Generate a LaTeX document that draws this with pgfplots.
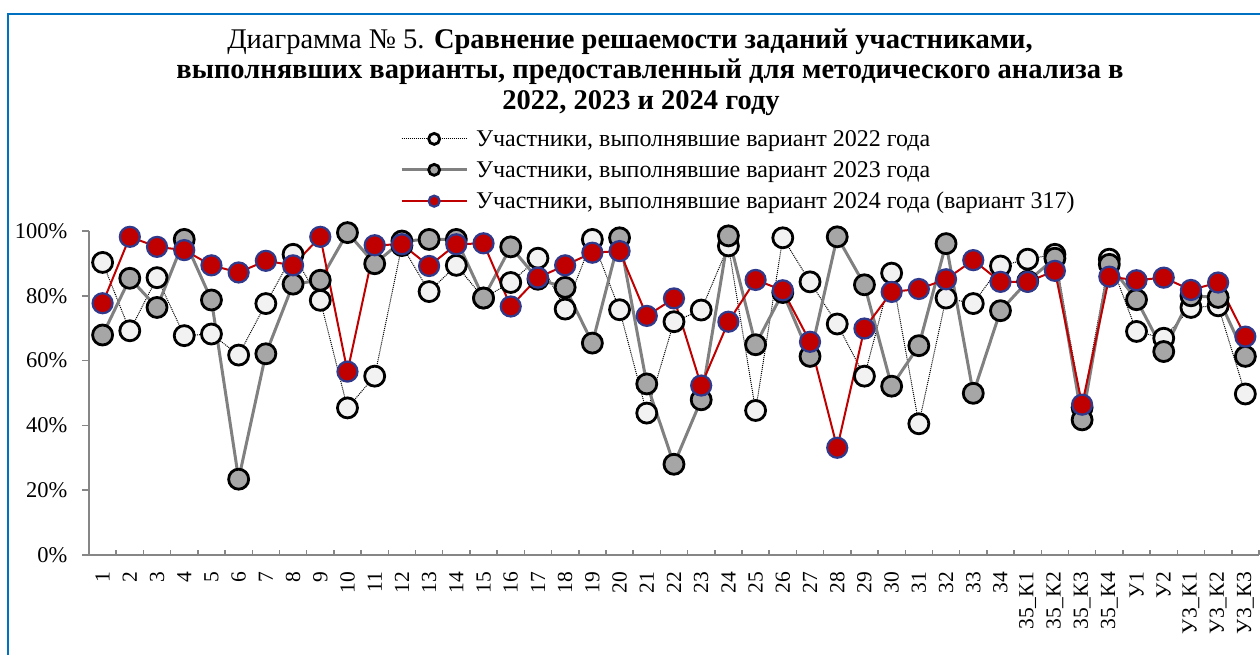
\documentclass[border=0pt]{standalone}
\usepackage{pgfplots}
\pgfplotsset{compat=1.18}
\usepackage{fontspec}
\setmainfont{Liberation Serif}
\definecolor{frameblue}{HTML}{0070C0}
\definecolor{axisgray}{HTML}{868686}
\definecolor{redline}{HTML}{C00000}
\definecolor{rededge}{HTML}{2F3A8C}
\definecolor{greyfill}{HTML}{A6A6A6}
\definecolor{greyline}{HTML}{808080}
\definecolor{whitefill}{HTML}{F2F2F2}
\pgfplotstableread{
x y
0 90.3
1 69.2
2 85.6
3 67.7
4 68.2
5 61.7
6 77.6
7 92.8
8 78.6
9 45.4
10 55.2
11 95.5
12 81.3
13 89.4
14 79.3
15 84.1
16 91.6
17 75.9
18 97.4
19 75.7
20 43.8
21 72.0
22 75.6
23 95.4
24 44.6
25 97.9
26 84.3
27 71.3
28 55.2
29 87.0
30 40.5
31 79.3
32 77.6
33 89.2
34 91.3
35 92.8
36 45.5
37 91.3
38 69.0
39 66.9
40 76.4
41 76.9
42 49.7
}\dataA
\pgfplotstableread{
x y
0 67.9
1 85.4
2 76.4
3 97.4
4 78.7
5 23.4
6 62.1
7 83.6
8 84.8
9 99.5
10 89.9
11 96.9
12 97.4
13 97.4
14 79.3
15 95.1
16 85.1
17 82.6
18 65.4
19 97.9
20 52.8
21 28.0
22 47.9
23 98.5
24 64.9
25 81.0
26 61.3
27 98.2
28 83.4
29 52.1
30 64.6
31 96.1
32 49.9
33 75.4
34 84.5
35 91.6
36 41.7
37 89.7
38 78.8
39 62.8
40 80.0
41 79.5
42 61.3
}\dataB
\pgfplotstableread{
x y
0 77.7
1 98.2
2 95.1
3 94.1
4 89.4
5 87.2
6 90.8
7 89.4
8 98.2
9 56.6
10 95.6
11 95.9
12 89.2
13 95.9
14 96.2
15 76.7
16 85.6
17 89.4
18 93.3
19 93.8
20 73.8
21 79.2
22 52.3
23 72.0
24 84.9
25 81.7
26 65.8
27 33.1
28 69.9
29 81.2
30 82.1
31 85.1
32 91.0
33 84.3
34 84.3
35 87.7
36 46.4
37 85.9
38 84.8
39 85.6
40 81.8
41 84.1
42 67.4
}\dataC
\begin{document}
\begin{tikzpicture}[x=1pt,y=1pt]
\useasboundingbox (0,0) rectangle (1260,655);
\draw[frameblue, line width=2pt] (8,-20) -- (8,641) -- (1300,641);
\node[font=\fontsize{28.5}{31}\selectfont] at (630,613) {Диаграмма № 5. \textbf{Сравнение решаемости заданий участниками,}};
\node[font=\fontsize{28.5}{31}\selectfont] at (650,583) {\textbf{выполнявших варианты, предоставленный для методического анализа в}};
\node[font=\fontsize{28.5}{31}\selectfont] at (641,552) {\textbf{2022, 2023 и 2024 году}};
\begin{axis}[
  at={(89pt,100pt)}, anchor=south west,
  scale only axis, width=1170pt, height=324pt,
  xmin=-0.5, xmax=42.5, ymin=0, ymax=100,
  clip=false,
  axis lines*=left,
  axis line style={-, draw=axisgray, line width=2pt},
  tick align=outside,
  major tick length=7pt,
  minor tick length=5pt,
  tick style={draw=axisgray, line width=1.5pt},
  xtick={0,...,42},
  xticklabels={1,2,3,4,5,6,7,8,9,10,11,12,13,14,15,16,17,18,19,20,21,22,23,24,25,26,27,28,29,30,31,32,33,34,35\_К1,35\_К2,35\_К3,35\_К4,У1,У2,У3\_К1,У3\_К2,У3\_К3},
  major x tick style={draw=none},
  minor xtick={-0.5,0.5,...,42.5},
  minor x tick style={yshift=5pt},
  ytick={0,20,40,60,80,100},
  yticklabels={0\%,20\%,40\%,60\%,80\%,100\%},
  xticklabel style={font=\fontsize{21.5}{24}\selectfont, rotate=90, anchor=east, inner sep=0pt},
  xticklabel shift=10pt,
  yticklabel style={font=\fontsize{22.5}{26}\selectfont},
  yticklabel shift=11pt,
  legend style={at={(axis description cs:0.2658,1.318)}, anchor=north west, draw=none, fill=none,
    font=\fontsize{24}{27}\selectfont, row sep=9.5pt, column sep=6pt, inner sep=0pt},
  legend cell align=left,
  legend image code/.code={\draw[mark repeat=2,mark phase=2,#1,mark size=5.5pt] plot coordinates {(0pt,0pt) (32.5pt,0pt) (65pt,0pt)};},
]
\addplot[black, densely dotted, line width=1pt, mark=*, mark size=10pt,
  mark options={solid, fill=whitefill, draw=black, line width=2.8pt}] table[x=x,y=y] {\dataA};
\addlegendentry{Участники, выполнявшие вариант 2022 года}
\addplot[greyline, solid, line width=3pt, mark=*, mark size=10pt,
  mark options={solid, fill=greyfill, draw=black, line width=2.8pt}] table[x=x,y=y] {\dataB};
\addlegendentry{Участники, выполнявшие вариант 2023 года}
\addplot[redline, solid, line width=2pt, mark=*, mark size=10pt,
  mark options={solid, fill=redline, draw=rededge, line width=2.2pt}] table[x=x,y=y] {\dataC};
\addlegendentry{Участники, выполнявшие вариант 2024 года (вариант 317)}
\end{axis}
\end{tikzpicture}
\end{document}
